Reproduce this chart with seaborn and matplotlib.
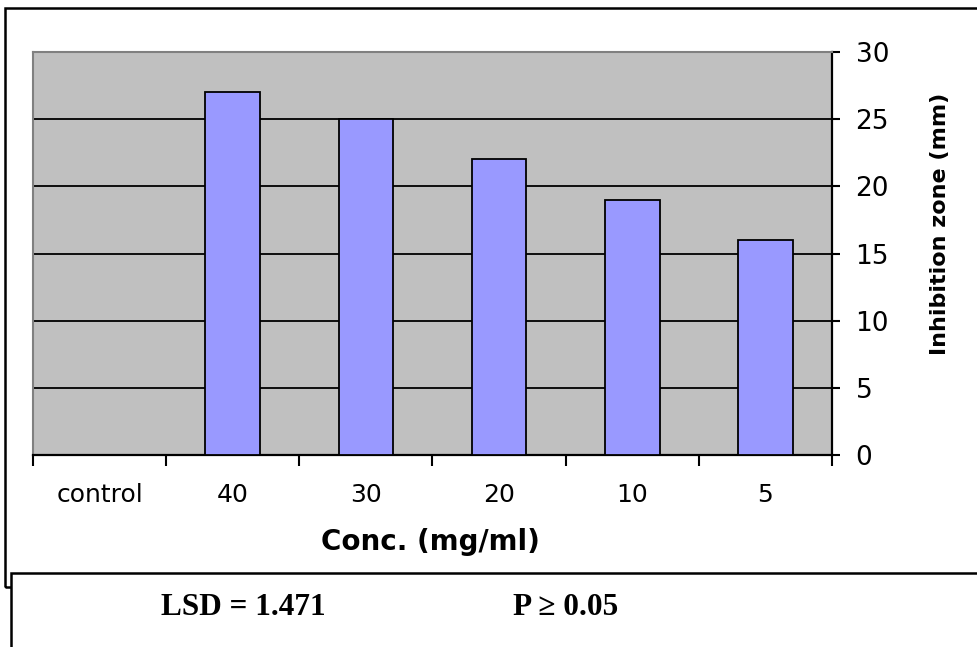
import matplotlib
matplotlib.use("Agg")
import matplotlib.pyplot as plt
from matplotlib.patches import Rectangle
import seaborn as sns
import pandas as pd

# Data
categories = ["control", "40", "30", "20", "10", "5"]
values = [0, 27, 25, 22, 19, 16]
y_ticks = [0, 5, 10, 15, 20, 25, 30]
x_label = "Conc. (mg/ml)"
y_label = "Inhibition zone (mm)"
note_lsd = "LSD = 1.471"
note_p = "P \u2265 0.05"

df = pd.DataFrame({"conc": categories, "zone": values})

sns.set_theme(style="white")
plt.rcParams["font.family"] = ["DejaVu Sans"]

W, H = 977, 647
fig = plt.figure(figsize=(W / 100, H / 100), dpi=100)
fig.patch.set_facecolor("white")

def fx(px):
    return px / W

def fy(py):
    return 1 - py / H

# Outer chart border
fig.add_artist(Rectangle((fx(5), fy(587)), fx(1000 - 5), fy(8) - fy(587),
                         transform=fig.transFigure, fill=False,
                         edgecolor="black", linewidth=1.8, zorder=0))

left, right, top, bottom = 33, 832, 52, 455
ax = fig.add_axes([fx(left), fy(bottom), fx(right - left), fy(top) - fy(bottom)])
ax.set_facecolor("#C0C0C0")

sns.barplot(data=df, x="conc", y="zone", order=categories, color="#9999FF",
            saturation=1, width=0.41, edgecolor="black", linewidth=1.3, ax=ax,
            zorder=3)

ax.set_ylim(0, 30)
ax.set_xlim(-0.5, len(categories) - 0.5)
ax.set_yticks(y_ticks)
ax.yaxis.tick_right()
ax.yaxis.set_label_position("right")
ax.grid(axis="y", color="black", linewidth=1.3, zorder=1)
ax.grid(axis="x", visible=False)
ax.set_axisbelow(True)

# x: labels at centres, tick marks at category boundaries
ax.set_xticks(range(len(categories)))
ax.set_xticklabels(categories)
ax.set_xticks([i - 0.5 for i in range(len(categories) + 1)], minor=True)
ax.tick_params(axis="x", which="major", length=0, pad=20, labelsize=18, colors="black")
ax.tick_params(axis="x", which="minor", length=8, width=1.5, direction="out",
               color="black", bottom=True)
ax.tick_params(axis="y", which="major", length=6, width=1.5, direction="out",
               right=True, left=False, pad=11, labelsize=19, colors="black")

for s in ["left", "top"]:
    ax.spines[s].set_visible(True)
    ax.spines[s].set_color("#808080")
    ax.spines[s].set_linewidth(1.5)
for s in ["bottom", "right"]:
    ax.spines[s].set_visible(True)
    ax.spines[s].set_color("black")
    ax.spines[s].set_linewidth(1.6)

ax.set_xlabel(x_label, fontsize=20, fontweight="bold", color="black")
ax.set_ylabel(y_label, fontsize=16, fontweight="bold", color="black")
ax.xaxis.set_label_coords(0.497, -0.182)
ax.yaxis.set_label_coords(1.123, 0.573)

# Bottom note box
fig.add_artist(Rectangle((fx(11), fy(700)), fx(1000 - 11), fy(573) - fy(700),
                         transform=fig.transFigure, facecolor="white",
                         edgecolor="black", linewidth=1.8, zorder=5))
fig.text(fx(161), fy(615), note_lsd, fontsize=22.5, fontweight="bold",
         family=["Liberation Serif", "DejaVu Serif"], va="baseline", ha="left",
         color="black", zorder=6)
fig.text(fx(513), fy(615), note_p, fontsize=22.5, fontweight="bold",
         family=["Liberation Serif", "DejaVu Serif"], va="baseline", ha="left",
         color="black", zorder=6)

fig.savefig("out.png", dpi=100, facecolor="white")
